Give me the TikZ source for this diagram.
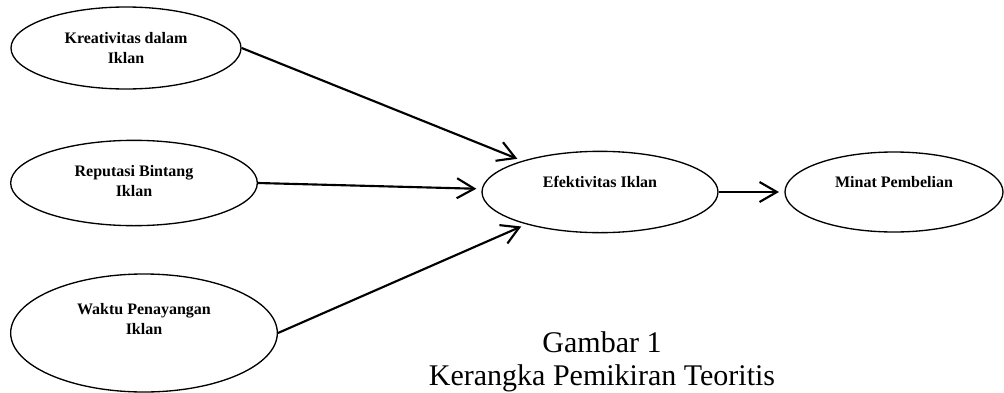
\documentclass[tikz,border=0pt]{standalone}
\usepackage{fontspec}
\setmainfont{Liberation Serif}
\usetikzlibrary{shapes, arrows.meta, positioning}

\begin{document}
\begin{tikzpicture}[x=0.75pt, y=-0.75pt,
        var/.style={ellipse, draw, line width=1pt, inner sep=0pt},
        lab/.style={font=\fontsize{12}{15.5}\selectfont\bfseries, align=center},
        arr/.style={line width=1.6pt, -{Straight Barb[length=13pt, width=15pt, line width=1.6pt]}, shorten >=4pt}]
        \useasboundingbox (0,0) rectangle (1004,393);
        \node[var, minimum width=172.5pt, minimum height=61.5pt, label={[lab]center:Kreativitas dalam\\Iklan}] (kr) at (126,48) {};
        \node[var, minimum width=185pt, minimum height=64pt, label={[lab, yshift=1.5pt]center:Reputasi Bintang\\Iklan}] (rp) at (134,183) {};
        \node[var, minimum width=200pt, minimum height=88.5pt, label={[lab, yshift=10.5pt]center:Waktu Penayangan\\Iklan}] (wk) at (144,333) {};
        \node[var, minimum width=177pt, minimum height=61pt, label={[lab, yshift=7.5pt]center:Efektivitas Iklan}] (ef) at (600,192) {};
        \node[var, minimum width=163.5pt, minimum height=60pt, label={[lab, yshift=7.5pt]center:Minat Pembelian}] (mp) at (894,192) {};
        \draw[arr] (kr.east) -- (ef);
        \draw[arr] (rp.east) -- (ef);
        \draw[arr] (wk.east) -- (ef);
        \draw[arr] (ef) -- (mp);
        \node[font=\fontsize{22.5}{24.75}\selectfont, align=center] (cap) at (602,362) {Gambar 1\\Kerangka Pemikiran Teoritis};
\end{tikzpicture}
\end{document}
